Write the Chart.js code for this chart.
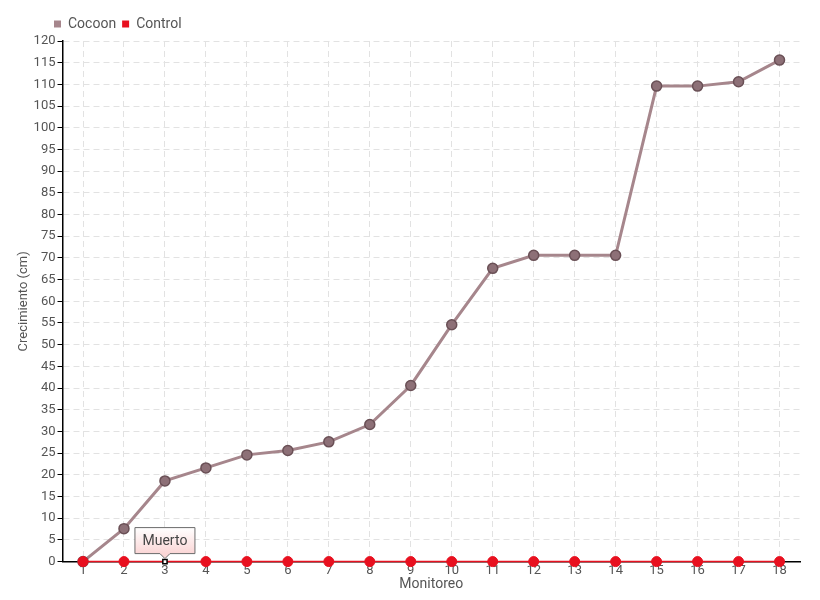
<!DOCTYPE html>
<html>
<head>
<meta charset="utf-8">
<script src="https://cdn.jsdelivr.net/npm/chart.js@4"></script>
<style>
html,body{margin:0;padding:0;background:#fff;}
#wrap{width:820px;height:600px;}
</style>
</head>
<body>
<div id="wrap"><canvas id="c" width="820" height="600"></canvas></div>
<script>
const categories = ['1','2','3','4','5','6','7','8','9','10','11','12','13','14','15','16','17','18'];
const cocoon = [0, 7.6, 18.6, 21.6, 24.6, 25.6, 27.6, 31.6, 40.6, 54.6, 67.6, 70.6, 70.6, 70.6, 109.6, 109.6, 110.6, 115.6];
const control = [0, 0, 0, 0, 0, 0, 0, 0, 0, 0, 0, 0, 0, 0, 0, 0, 0, 0];
const seriesNames = ['Cocoon', 'Control'];
const annotationIndex = 2;
const annotationText = 'Muerto';

const FONT = 'Roboto, "Liberation Sans", sans-serif';

const calloutPlugin = {
  id: 'callout',
  afterLayout(chart) {
    const lg = chart.legend;
    if (lg) { lg.left += 32; lg.right += 32; }
  },
  afterDatasetsDraw(chart) {
    const meta = chart.getDatasetMeta(1);
    const pt = meta.data[annotationIndex];
    if (!pt) return;
    const ctx = chart.ctx;
    const x = pt.x, y = pt.y;
    const w = 60, h = 26;
    const left = x - 30, bottom = y - 8, top = bottom - h;
    ctx.save();
    const g = ctx.createLinearGradient(0, top, 0, bottom);
    g.addColorStop(0, '#ffffff');
    g.addColorStop(1, '#fbd6d6');
    ctx.beginPath();
    ctx.moveTo(left, top);
    ctx.lineTo(left + w, top);
    ctx.lineTo(left + w, bottom);
    ctx.lineTo(x + 5, bottom);
    ctx.lineTo(x, bottom + 5);
    ctx.lineTo(x - 5, bottom);
    ctx.lineTo(left, bottom);
    ctx.closePath();
    ctx.fillStyle = g;
    ctx.fill();
    ctx.strokeStyle = '#6b6b6b';
    ctx.lineWidth = 1;
    ctx.stroke();
    ctx.fillStyle = '#444';
    ctx.font = '14px ' + FONT;
    ctx.textAlign = 'center';
    ctx.textBaseline = 'middle';
    ctx.fillText(annotationText, left + w / 2, top + h / 2 + 1);
    ctx.restore();
  }
};

new Chart(document.getElementById('c'), {
  type: 'line',
  data: {
    labels: categories,
    datasets: [
      {
        label: seriesNames[0],
        data: cocoon,
        order: 1,
        clip: false,
        borderColor: '#a6868c',
        backgroundColor: '#a6868c',
        borderWidth: 3,
        pointRadius: 5,
        pointBackgroundColor: '#8d7077',
        pointBorderColor: '#6a5056',
        pointBorderWidth: 1.5,
        tension: 0
      },
      {
        label: seriesNames[1],
        data: control,
        order: 0,
        clip: false,
        borderColor: '#e8101f',
        backgroundColor: '#e8101f',
        borderWidth: 1.5,
        pointRadius: control.map((v, i) => i === annotationIndex ? 3 : 5),
        pointStyle: control.map((v, i) => i === annotationIndex ? 'rect' : 'circle'),
        pointBackgroundColor: control.map((v, i) => i === annotationIndex ? '#ffffff' : '#e8101f'),
        pointBorderColor: control.map((v, i) => i === annotationIndex ? '#000000' : '#e8101f'),
        pointBorderWidth: control.map((v, i) => i === annotationIndex ? 1.5 : 1),
        tension: 0
      }
    ]
  },
  options: {
    responsive: false,
    animation: false,
    layout: { padding: { top: 11, right: 20, left: 16, bottom: 7 } },
    plugins: {
      legend: {
        display: true,
        position: 'top',
        align: 'start',
        labels: {
          boxWidth: 7,
          boxHeight: 7,
          padding: 6,
          color: '#555',
          font: { family: FONT, size: 14 },
          generateLabels(chart) {
            return chart.data.datasets.map((ds, i) => ({
              text: ds.label,
              fillStyle: ds.borderColor,
              strokeStyle: ds.borderColor,
              lineWidth: 0,
              hidden: false,
              datasetIndex: i,
              fontColor: '#555'
            }));
          }
        }
      },
      tooltip: { enabled: false }
    },
    scales: {
      x: {
        offset: true,
        title: { display: true, text: 'Monitoreo', color: '#555', font: { family: FONT, size: 14 }, padding: { top: -3, bottom: 0 } },
        grid: { offset: false, color: '#e2e2e2', drawTicks: false, lineWidth: 1 },
        border: { display: true, color: '#000', width: 1.5, dash: [6, 4] },
        ticks: { color: '#555', font: { family: FONT, size: 13 }, padding: 1, autoSkip: false, maxRotation: 0 }
      },
      y: {
        min: 0,
        max: 120,
        title: { display: true, text: 'Crecimiento (cm)', color: '#555', font: { family: FONT, size: 13 }, padding: { top: 0, bottom: 0 } },
        grid: { color: '#e2e2e2', tickColor: '#000', tickBorderDash: [], tickLength: 5, lineWidth: 1 },
        border: { display: true, color: '#000', width: 1.5, dash: [6, 4] },
        ticks: { stepSize: 5, color: '#555', font: { family: FONT, size: 13 }, padding: 2 }
      }
    }
  },
  plugins: [calloutPlugin]
});
</script>
</body>
</html>
